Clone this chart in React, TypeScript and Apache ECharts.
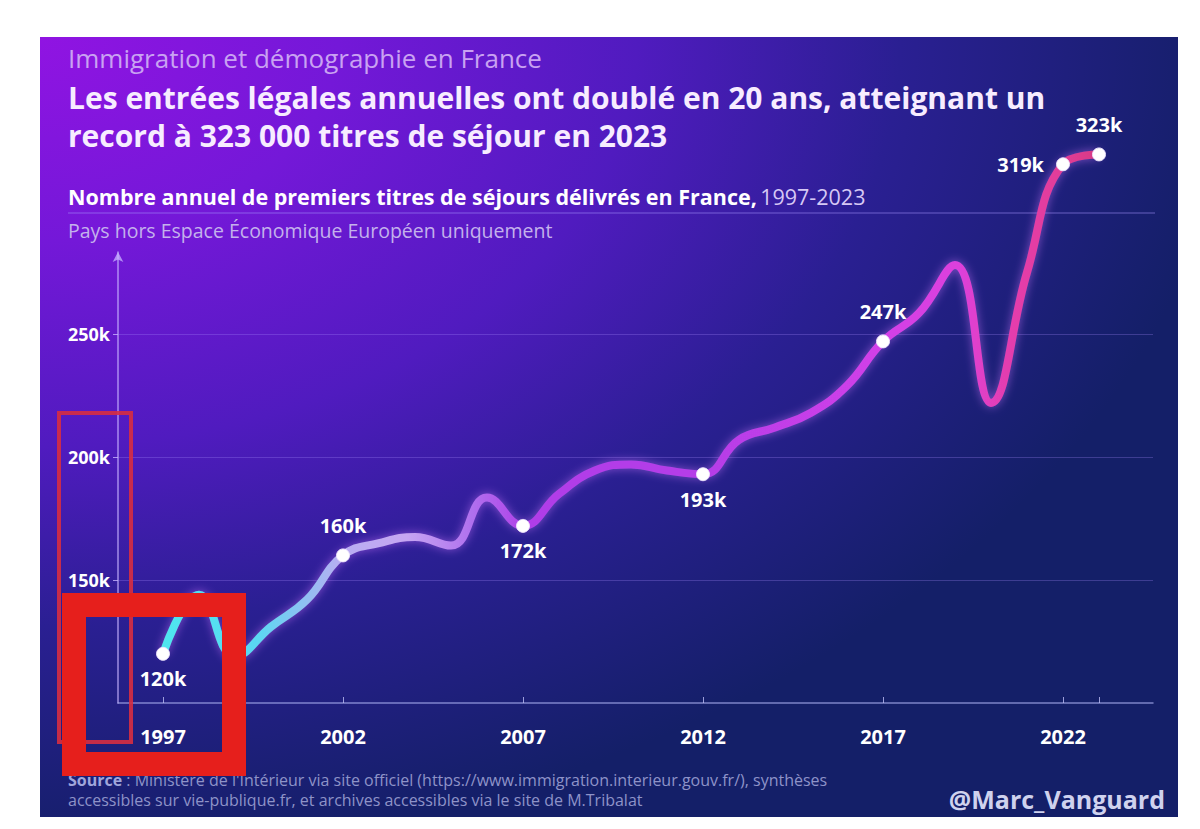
import React, { useEffect, useRef } from "react";
import * as echarts from "echarts";

const years = [1997, 1998, 1999, 2000, 2001, 2002, 2003, 2004, 2005, 2006, 2007, 2008, 2009, 2010, 2011, 2012, 2013, 2014, 2015, 2016, 2017, 2018, 2019, 2020, 2021, 2022, 2023];
const permits = [120000, 144000, 119000, 131000, 142000, 160000, 165000, 167500, 164000, 183500, 172000, 185000, 194500, 197000, 194500, 193000, 207000, 212000, 218000, 229000, 247000, 258500, 278000, 222000, 275000, 319000, 323000];
const labeledYears = [1997, 2002, 2007, 2012, 2017, 2022, 2023];
const labelPositions = ["bottom", "top", "bottom", "bottom", "top", "left", "top"];
const xTickYears = [1997, 2002, 2007, 2012, 2017, 2022, 2023];
const xLabelYears = [1997, 2002, 2007, 2012, 2017, 2022];
const yTickValues = [150000, 200000, 250000];

const FONT = "'Open Sans', 'DejaVu Sans', sans-serif";

export default function App() {
  const ref = useRef<HTMLDivElement>(null);
  useEffect(() => {
    if (!ref.current) return;
    const chart = echarts.init(ref.current, undefined, { renderer: "svg" });

    const seriesData = years.map((y, i) => {
      const li = labeledYears.indexOf(y);
      if (li < 0) return { value: [y, permits[i]], symbol: "none" };
      const pos = labelPositions[li];
      return {
        value: [y, permits[i]],
        symbol: "circle",
        symbolSize: 13,
        label: {
          show: true,
          position: pos,
          distance: pos === "top" ? 13 : pos === "left" ? 12 : 8,
          formatter: () => Math.round(permits[i] / 1000) + "k",
          color: "#ffffff",
          fontFamily: FONT,
          fontWeight: 700,
          fontSize: 20,
        },
      };
    });

    const lineGrad = new echarts.graphic.LinearGradient(0, 0, 1, 0, [
      { offset: 0, color: "#4fe6ef" },
      { offset: 0.1, color: "#5ad8f2" },
      { offset: 0.19, color: "#b8aef2" },
      { offset: 0.26, color: "#c6a6f2" },
      { offset: 0.33, color: "#b070ee" },
      { offset: 0.39, color: "#b03ee8" },
      { offset: 0.58, color: "#b53ee8" },
      { offset: 0.77, color: "#d23fe8" },
      { offset: 0.85, color: "#dc40dc" },
      { offset: 0.9, color: "#e43eb0" },
      { offset: 0.96, color: "#e23c98" },
      { offset: 1, color: "#d63a84" },
    ]);

    const bgGrad = new echarts.graphic.RadialGradient(0, 0, 1.05, [
      { offset: 0, color: "#9014e2" },
      { offset: 0.25, color: "#7418d8" },
      { offset: 0.5, color: "#501bbf" },
      { offset: 0.72, color: "#2a1f92" },
      { offset: 1, color: "#141f68" },
    ]);

    chart.setOption({
      animation: false,
      backgroundColor: "#ffffff",
      grid: { left: 118, right: 47, top: 252, bottom: 126, containLabel: false },
      xAxis: {
        type: "value",
        min: 1995.75,
        max: 2024.5,
        splitLine: { show: false },
        axisLine: { show: true, lineStyle: { color: "rgba(170,175,240,0.7)", width: 1.5 } },
        axisTick: { show: true, customValues: xTickYears, length: 6, inside: true, lineStyle: { color: "rgba(190,190,245,0.8)" } },
        axisLabel: {
          customValues: xLabelYears,
          formatter: (v: number) => String(v),
          color: "#ffffff",
          fontFamily: FONT,
          fontWeight: 700,
          fontSize: 20,
          margin: 23,
        },
      },
      yAxis: {
        type: "value",
        min: 100000,
        max: 283333,
        splitLine: { show: false },
        axisLine: {
          show: true,
          symbol: ["none", "arrow"],
          symbolSize: [8, 10],
          lineStyle: { color: "rgba(200,180,255,0.75)", width: 1.5 },
        },
        axisTick: { show: true, customValues: yTickValues, length: 5, lineStyle: { color: "rgba(200,180,255,0.8)" } },
        axisLabel: {
          customValues: yTickValues,
          formatter: (v: number) => v / 1000 + "k",
          color: "#ffffff",
          fontFamily: FONT,
          fontWeight: 700,
          fontSize: 18,
          margin: 8,
        },
      },
      series: [
        {
          type: "line",
          data: seriesData,
          smooth: 0.45,
          clip: false,
          showAllSymbol: true,
          symbol: "none",
          z: 5,
          lineStyle: {
            width: 8,
            color: lineGrad,
            shadowBlur: 10,
            shadowColor: "rgba(210,120,255,0.55)",
          },
          itemStyle: { color: "#ffffff", borderColor: "rgba(240,230,255,0.9)", borderWidth: 1 },
          markLine: {
            silent: true,
            symbol: ["none", "none"],
            label: { show: false },
            lineStyle: { color: "rgba(170,140,255,0.28)", width: 1, type: "solid" },
            data: yTickValues.map((v) => ({ yAxis: v })),
          },
        },
      ],
      graphic: [
        {
          type: "rect",
          z: -100,
          silent: true,
          shape: { x: 40, y: 37, width: 1138, height: 780 },
          style: { fill: bgGrad },
        },
        {
          type: "line",
          z: 1,
          silent: true,
          shape: { x1: 68, y1: 213, x2: 1155, y2: 213 },
          style: { stroke: "rgba(170,150,255,0.55)", lineWidth: 1 },
        },
        {
          type: "text",
          x: 68,
          y: 58,
          style: {
            text: "Immigration et démographie en France",
            fill: "#c9a2f2",
            font: `400 26px ${FONT}`,
            lineHeight: 28,
            verticalAlign: "middle",
          },
        },
        {
          type: "text",
          x: 68,
          y: 97,
          style: {
            text: "Les entrées légales annuelles ont doublé en 20 ans, atteignant un",
            fill: "#f7ecff",
            font: `700 30px ${FONT}`,
            lineHeight: 32,
            verticalAlign: "middle",
          },
        },
        {
          type: "text",
          x: 68,
          y: 135,
          style: {
            text: "record à 323 000 titres de séjour en 2023",
            fill: "#f7ecff",
            font: `700 30px ${FONT}`,
            lineHeight: 32,
            verticalAlign: "middle",
          },
        },
        {
          type: "text",
          x: 68,
          y: 196,
          style: {
            text: "{b|Nombre annuel de premiers titres de séjours délivrés en France,} {r|1997-2023}",
            verticalAlign: "middle",
            rich: {
              b: { fill: "#ffffff", font: `700 21.5px ${FONT}` },
              r: { fill: "#d6c8f5", font: `400 21.5px ${FONT}` },
            },
          },
        },
        {
          type: "text",
          x: 68,
          y: 230,
          style: {
            text: "Pays hors Espace Économique Européen uniquement",
            fill: "#c4b2ec",
            font: `400 19.5px ${FONT}`,
            lineHeight: 20,
            verticalAlign: "middle",
          },
        },
        {
          type: "text",
          x: 68,
          y: 780,
          style: {
            text: "{b|Source} : Ministère de l'Intérieur via site officiel (https://www.immigration.interieur.gouv.fr/), synthèses",
            fill: "#8e93c8",
            font: `400 16px ${FONT}`,
            verticalAlign: "middle",
            rich: { b: { fill: "#a0a6dc", font: `700 16px ${FONT}` } },
          },
        },
        {
          type: "text",
          x: 68,
          y: 800,
          style: {
            text: "accessibles sur vie-publique.fr, et archives accessibles via le site de M.Tribalat",
            fill: "#8e93c8",
            font: `400 16px ${FONT}`,
            lineHeight: 17,
            verticalAlign: "middle",
          },
        },
        {
          type: "text",
          x: 1165,
          y: 799,
          style: {
            text: "@Marc_Vanguard",
            fill: "#cfd2ee",
            font: `700 25px ${FONT}`,
            align: "right",
            verticalAlign: "middle",
          },
        },
        {
          type: "rect",
          z: 100,
          silent: true,
          shape: { x: 59, y: 413, width: 72, height: 329 },
          style: { fill: "none", stroke: "rgba(215,45,65,0.9)", lineWidth: 4 },
        },
        {
          type: "rect",
          z: 101,
          silent: true,
          shape: { x: 74, y: 605, width: 160, height: 159 },
          style: { fill: "none", stroke: "#e61f1c", lineWidth: 24 },
        },
      ],
    });
    return () => chart.dispose();
  }, []);
  return <div ref={ref} style={{ position: "fixed", left: 0, top: 0, width: 1200, height: 829 }} />;
}
